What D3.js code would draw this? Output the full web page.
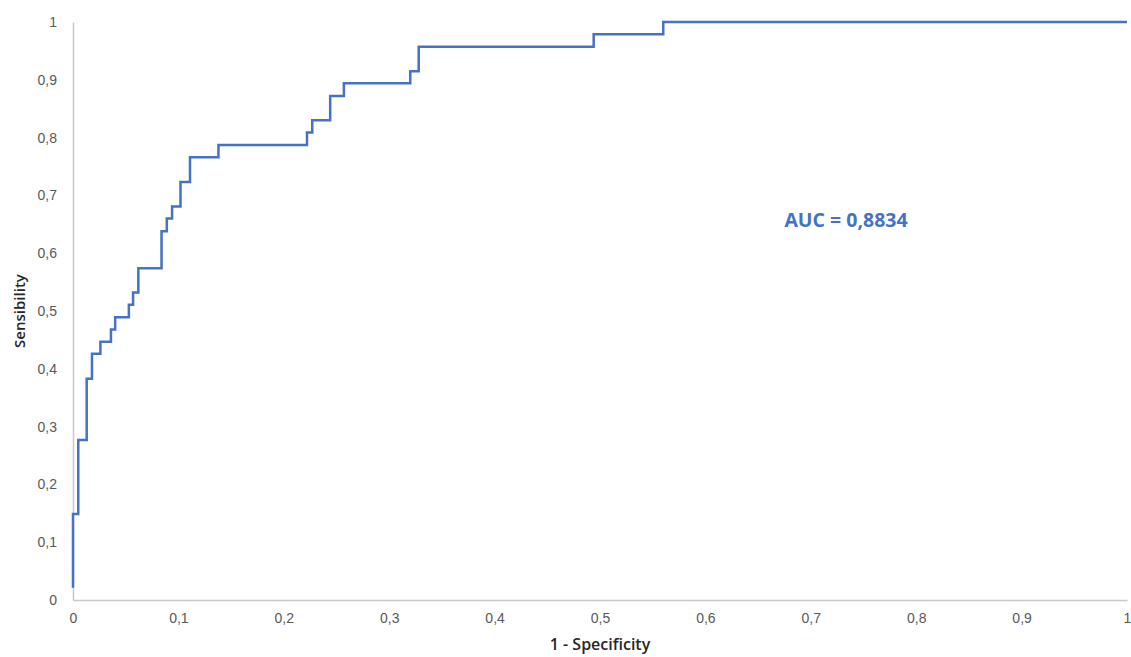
<!DOCTYPE html>
<html>
<head>
<meta charset="utf-8">
<script src="https://cdnjs.cloudflare.com/ajax/libs/d3/7.8.5/d3.min.js"></script>
<style>
  body { margin: 0; background: #fff; }
  svg { display: block; font-family: "Open Sans", "Liberation Sans", sans-serif; }
</style>
</head>
<body>
<svg width="1131" height="657"></svg>
<script>
// ROC curve corners: at each fpr the curve rises to tpr
var fpr = [0, 0, 0.005, 0.013, 0.018, 0.026, 0.036, 0.040, 0.053, 0.057, 0.062,
           0.084, 0.089, 0.094, 0.102, 0.111, 0.138, 0.222, 0.227, 0.244, 0.257,
           0.320, 0.328, 0.494, 0.560, 1];
var tpr = [0.021, 0.149, 0.277, 0.383, 0.426, 0.447, 0.468, 0.489, 0.511, 0.532, 0.574,
           0.638, 0.660, 0.681, 0.723, 0.766, 0.787, 0.809, 0.830, 0.872, 0.894,
           0.915, 0.957, 0.979, 1, 1];
var ticks = [0, 0.1, 0.2, 0.3, 0.4, 0.5, 0.6, 0.7, 0.8, 0.9, 1];
var aucLabel = "AUC = 0,8834";

var svg = d3.select("svg");
var x = d3.scaleLinear().domain([0, 1]).range([73, 1127]);
var y = d3.scaleLinear().domain([0, 1]).range([600, 22]);

// comma decimal like the original
function fmt(d) { return d === 0 || d === 1 ? String(d) : String(d).replace(".", ","); }

var xAxis = svg.append("g")
    .attr("transform", "translate(0,600)")
    .call(d3.axisBottom(x).tickValues(ticks).tickFormat(fmt).tickSize(0).tickPadding(13));
var yAxis = svg.append("g")
    .attr("transform", "translate(73,0)")
    .call(d3.axisLeft(y).tickValues(ticks).tickFormat(fmt).tickSize(0).tickPadding(16));

[xAxis, yAxis].forEach(function(a) {
  a.select(".domain").attr("stroke", "#c8c8c8").attr("stroke-width", 1.5);
  a.selectAll("text").attr("fill", "#595959").style("font-size", "14px");
});

var pts = fpr.map(function(d, i) { return [d, tpr[i]]; });
var line = d3.line()
    .x(function(d) { return x(d[0]); })
    .y(function(d) { return y(d[1]); })
    .curve(d3.curveStepAfter);

svg.append("path")
    .datum(pts)
    .attr("d", line)
    .attr("fill", "none")
    .attr("stroke", "#4472C4")
    .attr("stroke-width", 2.5);

svg.append("text")
    .attr("x", 846).attr("y", 227)
    .attr("text-anchor", "middle")
    .attr("fill", "#4472C4")
    .style("font-size", "19.5px").style("font-weight", "bold")
    .text(aucLabel);

svg.append("text")
    .attr("x", 600).attr("y", 650)
    .attr("text-anchor", "middle")
    .attr("fill", "#262626")
    .style("font-size", "16px").style("font-weight", "600")
    .text("1 - Specificity");

svg.append("text")
    .attr("transform", "translate(25,311) rotate(-90)")
    .attr("text-anchor", "middle")
    .attr("fill", "#262626")
    .style("font-size", "15px").style("font-weight", "600")
    .text("Sensibility");
</script>
</body>
</html>
